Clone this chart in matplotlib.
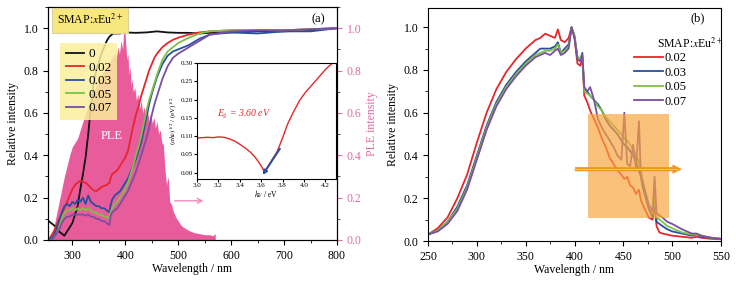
import matplotlib
matplotlib.use("Agg")
import matplotlib.pyplot as plt
from matplotlib.ticker import MultipleLocator
from matplotlib.patches import Rectangle

plt.rcParams['font.family'] = ['Liberation Serif', 'DejaVu Serif']
plt.rcParams['mathtext.fontset'] = 'stix'
plt.rcParams['font.size'] = 8.5

# ---------------- Panel (a) data ----------------
abs_x = [250, 255, 260, 265, 270, 275, 280, 285, 290, 295, 300, 305, 310, 315, 320, 325, 330,
         335, 340, 345, 350, 355, 360, 365, 370, 372, 375, 380, 385, 390, 395, 400, 405, 410,
         415, 420, 425, 430, 435, 440, 445, 450, 455, 460, 470, 480, 490, 500, 520, 540, 560,
         600, 650, 700, 750, 800]
abs_002 = [0.0, 0.0, 0.02, 0.04, 0.07, 0.10, 0.12, 0.15, 0.18, 0.21, 0.24, 0.26, 0.27, 0.28, 0.275,
           0.27, 0.26, 0.245, 0.235, 0.23, 0.24, 0.25, 0.255, 0.26, 0.27, 0.29, 0.31, 0.32, 0.33,
           0.35, 0.37, 0.39, 0.42, 0.48, 0.54, 0.59, 0.63, 0.68, 0.72, 0.76, 0.80, 0.83, 0.86, 0.88,
           0.91, 0.93, 0.945, 0.955, 0.97, 0.98, 0.985, 0.99, 0.99, 0.99, 0.995, 1.0]
abs_003 = [0.0, 0.0, 0.01, 0.02, 0.05, 0.09, 0.13, 0.16, 0.17, 0.16, 0.18, 0.17, 0.19, 0.18, 0.20,
           0.17, 0.21, 0.18, 0.17, 0.16, 0.16, 0.15, 0.15, 0.14, 0.13, 0.16, 0.19, 0.21, 0.22, 0.23,
           0.25, 0.27, 0.29, 0.32, 0.35, 0.38, 0.42, 0.46, 0.52, 0.58, 0.64, 0.69, 0.73, 0.77, 0.83,
           0.87, 0.89, 0.90, 0.92, 0.95, 0.97, 0.98, 0.975, 0.985, 0.985, 1.0]
abs_005 = [0.0, 0.0, 0.0, 0.01, 0.03, 0.06, 0.10, 0.13, 0.14, 0.14, 0.15, 0.14, 0.15, 0.14, 0.15,
           0.14, 0.15, 0.14, 0.13, 0.13, 0.12, 0.12, 0.11, 0.11, 0.10, 0.13, 0.15, 0.17, 0.18, 0.20,
           0.22, 0.24, 0.27, 0.31, 0.35, 0.40, 0.44, 0.49, 0.55, 0.61, 0.66, 0.70, 0.74, 0.78, 0.85,
           0.89, 0.91, 0.93, 0.955, 0.975, 0.985, 0.99, 0.99, 0.99, 0.995, 1.0]
abs_007 = [0.0, 0.0, 0.0, 0.01, 0.03, 0.05, 0.08, 0.10, 0.11, 0.11, 0.12, 0.12, 0.12, 0.12, 0.12,
           0.115, 0.12, 0.11, 0.11, 0.10, 0.10, 0.09, 0.09, 0.08, 0.07, 0.11, 0.13, 0.14, 0.15, 0.17,
           0.19, 0.21, 0.23, 0.26, 0.29, 0.32, 0.36, 0.40, 0.44, 0.48, 0.53, 0.59, 0.64, 0.68, 0.76,
           0.82, 0.86, 0.88, 0.91, 0.94, 0.97, 0.985, 0.99, 0.99, 0.995, 1.0]

abs0_x = [250, 255, 260, 265, 270, 275, 280, 285, 290, 295, 300, 305, 310, 315, 320, 325, 330, 335,
          340, 345, 350, 355, 360, 365, 370, 377, 390, 400, 420, 440, 460, 480, 500, 520, 540,
          560, 580, 600, 650, 700, 750, 800]
abs0_y = [0.10, 0.09, 0.08, 0.07, 0.06, 0.04, 0.03, 0.02, 0.04, 0.06, 0.08, 0.12, 0.16, 0.24, 0.31,
          0.39, 0.50, 0.63, 0.74, 0.80, 0.84, 0.88, 0.91, 0.94, 0.96, 0.975, 0.975, 0.98, 0.978,
          0.98, 0.985, 0.98, 0.978, 0.978, 0.975, 0.978, 0.98, 0.98, 0.985, 0.985, 0.99, 1.0]

ple_x = [250, 255, 260, 265, 270, 275, 280, 285, 290, 295, 300, 305, 310, 315, 320, 325, 330, 335,
         340, 345, 350, 355, 360, 365, 370, 375, 380, 383, 386, 389, 392, 395, 397, 399, 401, 403,
         405, 407, 409, 411, 413, 415, 418, 421, 424, 427, 430, 433, 436, 439, 442, 445, 448, 451,
         454, 457, 460, 463, 466, 469, 472, 475, 478, 481, 484, 487, 490, 495, 500, 505, 510, 520,
         530, 540, 550, 560, 565, 570]
ple_y = [0.0, 0.0, 0.02, 0.06, 0.12, 0.18, 0.24, 0.30, 0.35, 0.40, 0.44, 0.46, 0.48, 0.52, 0.56,
         0.60, 0.63, 0.67, 0.70, 0.73, 0.76, 0.78, 0.80, 0.82, 0.84, 0.86, 0.88, 0.86, 0.91, 0.88,
         0.94, 0.90, 0.99, 1.0, 0.92, 0.85, 0.88, 0.78, 0.82, 0.73, 0.76, 0.70, 0.72, 0.66, 0.69,
         0.62, 0.66, 0.60, 0.63, 0.57, 0.61, 0.56, 0.60, 0.55, 0.58, 0.53, 0.56, 0.50, 0.52, 0.46,
         0.45, 0.33, 0.26, 0.30, 0.18, 0.17, 0.14, 0.11, 0.09, 0.07, 0.06, 0.045, 0.035, 0.03, 0.025,
         0.025, 0.02, 0.03]

# inset (Tauc plot)
tauc_x = [3.00, 3.05, 3.10, 3.15, 3.20, 3.25, 3.30, 3.35, 3.40, 3.45, 3.50, 3.54, 3.58, 3.61, 3.63,
          3.66, 3.70, 3.75, 3.80, 3.85, 3.90, 3.96, 4.02, 4.09, 4.15, 4.21, 4.26]
tauc_y = [0.095, 0.096, 0.097, 0.096, 0.098, 0.097, 0.093, 0.087, 0.078, 0.068, 0.056, 0.044,
          0.028, 0.014, 0.003, 0.015, 0.035, 0.058, 0.095, 0.135, 0.165, 0.198, 0.222, 0.245, 0.265,
          0.285, 0.298]
fit_x = [3.79, 3.60]
fit_y = [0.072, -0.012]

conc_a = ['0', '0.02', '0.03', '0.05', '0.07']

# ---------------- Panel (b) data ----------------
em_x = [250, 260, 270, 280, 290, 300, 310, 320, 330, 340, 350, 360, 365, 370, 375, 380, 383, 386,
        390, 394, 397, 400, 403, 406, 408, 410, 413, 416, 420, 424, 428, 432, 436, 440, 444, 448,
        451, 454, 457, 460, 463, 466, 468, 470, 473, 476, 480, 482, 484, 487, 490, 495, 500, 510,
        520, 525, 530, 540, 550]
em_002 = [0.03, 0.06, 0.11, 0.20, 0.31, 0.46, 0.60, 0.71, 0.79, 0.85, 0.90, 0.94, 0.95, 0.97, 0.96,
          0.95, 0.99, 0.94, 0.93, 0.95, 1.00, 0.95, 0.83, 0.82, 0.86, 0.68, 0.65, 0.61, 0.57, 0.53,
          0.48, 0.44, 0.39, 0.36, 0.33, 0.31, 0.29, 0.30, 0.26, 0.25, 0.22, 0.24, 0.19, 0.17, 0.14,
          0.11, 0.10, 0.17, 0.07, 0.04, 0.035, 0.03, 0.025, 0.02, 0.015, 0.02, 0.015, 0.01, 0.008]
em_003 = [0.03, 0.05, 0.09, 0.16, 0.26, 0.40, 0.54, 0.65, 0.73, 0.79, 0.84, 0.88, 0.90, 0.90, 0.90,
          0.91, 0.93, 0.88, 0.90, 0.92, 1.00, 0.96, 0.86, 0.85, 0.88, 0.71, 0.70, 0.68, 0.66, 0.64,
          0.61, 0.57, 0.54, 0.52, 0.50, 0.47, 0.45, 0.44, 0.42, 0.40, 0.37, 0.33, 0.30, 0.25, 0.20,
          0.15, 0.11, 0.20, 0.09, 0.08, 0.07, 0.055, 0.045, 0.035, 0.025, 0.03, 0.02, 0.015, 0.01]
em_005 = [0.03, 0.05, 0.09, 0.15, 0.25, 0.39, 0.53, 0.64, 0.72, 0.78, 0.83, 0.87, 0.88, 0.89, 0.89,
          0.90, 0.92, 0.88, 0.89, 0.91, 1.00, 0.96, 0.86, 0.85, 0.87, 0.70, 0.69, 0.68, 0.66, 0.63,
          0.61, 0.58, 0.56, 0.54, 0.52, 0.50, 0.48, 0.47, 0.45, 0.43, 0.40, 0.37, 0.33, 0.28, 0.22,
          0.17, 0.13, 0.22, 0.11, 0.10, 0.09, 0.07, 0.06, 0.04, 0.03, 0.03, 0.025, 0.015, 0.01]
em_007 = [0.03, 0.045, 0.08, 0.14, 0.24, 0.38, 0.52, 0.63, 0.71, 0.77, 0.82, 0.86, 0.87, 0.88, 0.87,
          0.89, 0.90, 0.87, 0.88, 0.90, 1.00, 0.95, 0.85, 0.84, 0.87, 0.72, 0.70, 0.72, 0.66, 0.57,
          0.53, 0.50, 0.47, 0.44, 0.40, 0.38, 0.60, 0.36, 0.35, 0.45, 0.34, 0.56, 0.30, 0.27, 0.22,
          0.17, 0.14, 0.30, 0.13, 0.12, 0.11, 0.09, 0.08, 0.055, 0.035, 0.035, 0.025, 0.015, 0.01]
conc_b = ['0.02', '0.03', '0.05', '0.07']

c_black = '#111111'
c_red = '#e8262a'
c_blue = '#274f9f'
c_green = '#7cc143'
c_purple = '#7b4ea0'
c_pink = '#e85c9c'
c_pinktxt = '#e36aa3'

fig = plt.figure(figsize=(7.36, 2.83), dpi=100)

# ---------------- Panel (a) ----------------
ax = fig.add_axes([48/736, 43/283, 289/736, 233/283])
ax2 = ax.twinx()
ax2.fill_between(ple_x, 0, ple_y, color=c_pink, lw=0)
ax2.set_ylim(0, 1.1)
ax2.set_yticks([0.0, 0.2, 0.4, 0.6, 0.8, 1.0])
ax2.yaxis.set_minor_locator(MultipleLocator(0.1))
ax2.tick_params(axis='y', which='major', colors=c_pinktxt, direction='out', length=3.5,
                labelsize=8.5)
ax2.tick_params(axis='y', which='minor', color='#333333', direction='out', length=2)
ax2.set_ylabel('PLE intensity', color=c_pinktxt, fontsize=8.5, labelpad=3)
ax2.annotate('', xy=(553, 0.185), xytext=(488, 0.185),
             arrowprops=dict(arrowstyle='->', color='#f08cba', lw=1.0))
ax2.text(375, 0.49, 'PLE', color='white', fontsize=9, ha='center', va='center')

ax.set_zorder(ax2.get_zorder() + 1)
ax.patch.set_visible(False)
ax.plot(abs0_x, abs0_y, color=c_black, lw=1.3, label=conc_a[0])
ax.plot(abs_x, abs_002, color=c_red, lw=1.3, label=conc_a[1])
ax.plot(abs_x, abs_003, color=c_blue, lw=1.3, label=conc_a[2])
ax.plot(abs_x, abs_005, color=c_green, lw=1.3, label=conc_a[3])
ax.plot(abs_x, abs_007, color=c_purple, lw=1.3, label=conc_a[4])
ax.set_xlim(254, 800)
ax.set_ylim(0, 1.1)
ax.set_xticks([300, 400, 500, 600, 700, 800])
ax.xaxis.set_minor_locator(MultipleLocator(50))
ax.set_yticks([0.0, 0.2, 0.4, 0.6, 0.8, 1.0])
ax.yaxis.set_minor_locator(MultipleLocator(0.1))
ax.tick_params(which='major', direction='out', length=3.5, labelsize=8.5)
ax.tick_params(which='minor', direction='out', length=2)
ax.set_xlabel('Wavelength / nm', fontsize=8.5, labelpad=1)
ax.set_ylabel('Relative intensity', fontsize=8.5, labelpad=3)
leg = ax.legend(loc='upper left', bbox_to_anchor=(0.02, 0.875), frameon=True, fontsize=9.5,
                handlelength=1.4, handletextpad=0.3, labelspacing=0.1, borderpad=0.4,
                fancybox=False)
leg.get_frame().set_facecolor('#fbee9e')
leg.get_frame().set_alpha(0.85)
leg.get_frame().set_edgecolor('none')
ax.text(0.145, 0.944, r'SMAP:$x$Eu$^{2+}$', transform=ax.transAxes, ha='center', va='center',
        fontsize=8.5, bbox=dict(boxstyle='square,pad=0.45', facecolor='#f8e77c',
                                edgecolor='#d8d0a0', lw=0.8))
ax.text(0.934, 0.948, '(a)', transform=ax.transAxes, ha='center', va='center', fontsize=9)

# inset
axi = fig.add_axes([197/736, 104/283, 139/736, 116/283])
axi.set_zorder(ax.get_zorder() + 1)
axi.plot(tauc_x, tauc_y, color=c_red, lw=1.0)
axi.annotate('', xy=(fit_x[1], fit_y[1]), xytext=(fit_x[0], fit_y[0]),
             arrowprops=dict(arrowstyle='-|>', color=c_blue, lw=1.4, mutation_scale=6))
axi.set_xlim(3.0, 4.3)
axi.set_ylim(-0.017, 0.30)
axi.set_xticks([3.0, 3.2, 3.4, 3.6, 3.8, 4.0, 4.2])
axi.set_yticks([0.00, 0.05, 0.10, 0.15, 0.20, 0.25, 0.30])
axi.tick_params(labelsize=5, length=2, direction='out', pad=1)
axi.set_xlabel(r'$h\nu$ / eV', fontsize=5.5, labelpad=0)
axi.set_ylabel(r'$(\alpha h\nu)^{1/2}$ / (eV)$^{1/2}$', fontsize=5, labelpad=1)
axi.text(3.19, 0.16, r'$E_{\rm g}$ = 3.60 eV', color=c_red, fontsize=7, style='italic',
         ha='left', va='center')

# ---------------- Panel (b) ----------------
bx = fig.add_axes([428/736, 42/283, 293/736, 233/283])
bx.plot(em_x, em_002, color=c_red, lw=1.3, label=conc_b[0])
bx.plot(em_x, em_003, color=c_blue, lw=1.3, label=conc_b[1])
bx.plot(em_x, em_005, color=c_green, lw=1.3, label=conc_b[2])
bx.plot(em_x, em_007, color=c_purple, lw=1.3, label=conc_b[3])
bx.add_patch(Rectangle((414, 0.106), 82.7, 0.487, facecolor='#f8a43c', alpha=0.68,
                       edgecolor='none', zorder=5))
bx.annotate('', xy=(512, 0.336), xytext=(398, 0.336), zorder=6,
            arrowprops=dict(arrowstyle='simple,head_width=0.7,head_length=0.7,tail_width=0.3',
                            facecolor='#f0961c', edgecolor='#f0961c', lw=0.5))
bx.plot([398, 505], [0.336, 0.336], color='#fbd08a', lw=0.6, zorder=7)
bx.set_xlim(250, 550)
bx.set_ylim(0, 1.09)
bx.set_xticks([250, 300, 350, 400, 450, 500, 550])
bx.xaxis.set_minor_locator(MultipleLocator(25))
bx.set_yticks([0.0, 0.2, 0.4, 0.6, 0.8, 1.0])
bx.yaxis.set_minor_locator(MultipleLocator(0.1))
bx.tick_params(which='major', direction='out', length=3.5, labelsize=8.5)
bx.tick_params(which='minor', direction='out', length=2)
bx.set_xlabel('Wavelength / nm', fontsize=8.5, labelpad=1)
bx.set_ylabel('Relative intensity', fontsize=8.5, labelpad=3)
bx.text(0.921, 0.957, '(b)', transform=bx.transAxes, ha='center', va='center', fontsize=9)
bx.text(0.895, 0.845, r'SMAP:$x$Eu$^{2+}$', transform=bx.transAxes, ha='center', va='center',
        fontsize=8.5)
bx.legend(loc='upper left', bbox_to_anchor=(0.70, 0.815), frameon=False, fontsize=9,
          handlelength=2.3, handletextpad=0.1, labelspacing=0.2, borderpad=0.1,
          borderaxespad=0)

fig.savefig('out.png', dpi=100)
